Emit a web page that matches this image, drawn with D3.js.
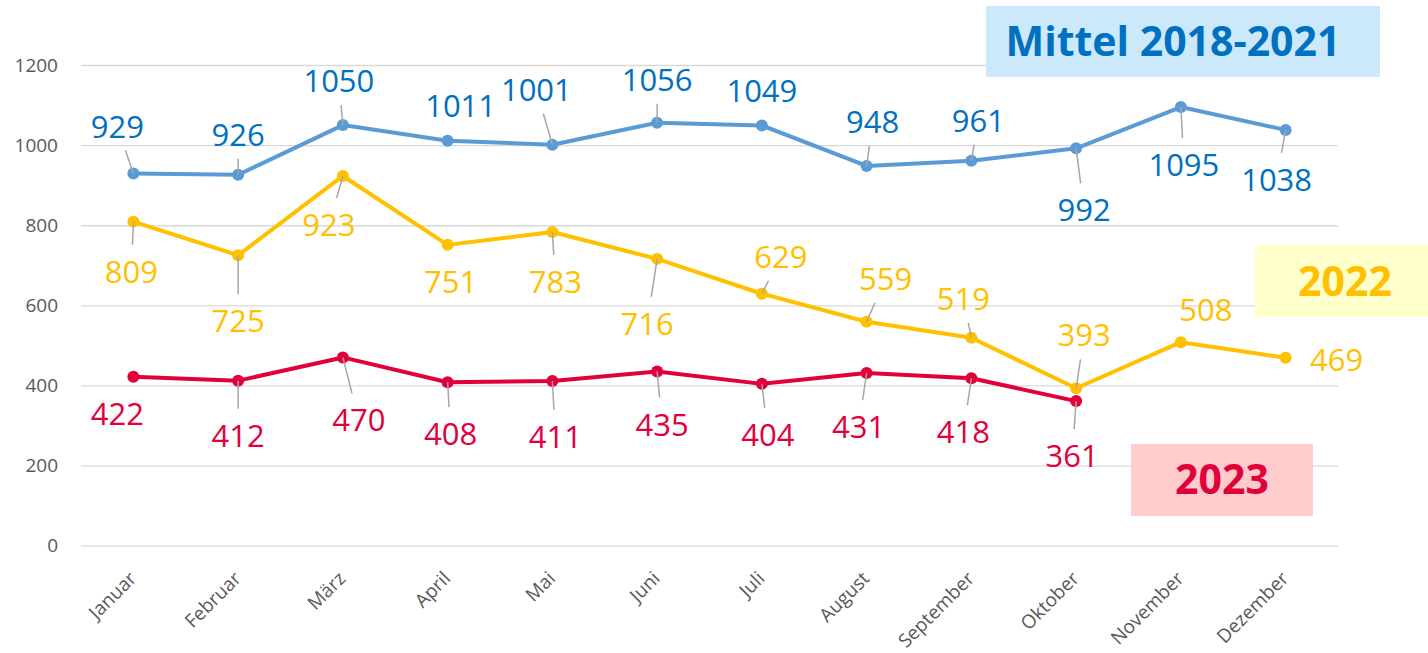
<!DOCTYPE html>
<html>
<head>
<meta charset="utf-8">
<script src="https://cdn.jsdelivr.net/npm/d3@7"></script>
<style>
	body { margin: 0; background: #fff; }
	svg { display: block; font-family: "Open Sans", sans-serif; }
</style>
</head>
<body>
<div id="chart"></div>
<script>
// data
const months = ["Januar", "Februar", "März", "April", "Mai", "Juni", "Juli", "August", "September", "Oktober", "November", "Dezember"]
const mittel = [929, 926, 1050, 1011, 1001, 1056, 1049, 948, 961, 992, 1095, 1038]
const year2022 = [809, 725, 923, 751, 783, 716, 629, 559, 519, 393, 508, 469]
const year2023 = [422, 412, 470, 408, 411, 435, 404, 431, 418, 361]
const yTicks = [0, 200, 400, 600, 800, 1000, 1200]

// label placement (pixel offset from the point to the label centre)
const offMittel = [[-16,-47],[0,-40],[-4,-44],[13,-35],[-16,-55],[0,-43],[0,-35],[6,-44],[7,-40],[8,62],[3,58],[-9,50]]
const off2022 = [[-2,50],[0,66],[-14,49],[3,37],[3,50],[-10,65],[19,-37],[19,-43],[-8,-39],[8,-53],[25,-32],[51,2]]
const off2023 = [[-16,37],[0,55],[16,63],[3,52],[3,56],[5,53],[6,51],[-8,54],[-8,54],[-4,55]]

const chart_width = 1428, chart_height = 653
const pad_left = 81, pad_right = 1338, pad_top = 65, pad_bottom = 545.7

const svg = d3.select("#chart").append("svg")
	.attr("width", chart_width)
	.attr("height", chart_height)

const x = d3.scaleBand().domain(months).range([pad_left, pad_right])
const cx = m => x(m) + x.bandwidth() / 2
const y = d3.scaleLinear().domain([0, 1200]).range([pad_bottom, pad_top])

// y axis with gridlines
const yAxis = svg.append("g")
	.attr("transform", `translate(${pad_left},0)`)
	.call(d3.axisLeft(y).tickValues(yTicks).tickFormat(d3.format("d"))
		.tickSize(-(pad_right - pad_left)).tickPadding(23))
yAxis.select(".domain").remove()
yAxis.selectAll(".tick line").attr("stroke", "#d9d9d9").attr("stroke-width", 1.3)
yAxis.selectAll(".tick text")
	.attr("fill", "#595959")
	.attr("font-size", 19)
	.attr("font-family", "Open Sans")

// x axis, rotated labels
const xAxis = svg.append("g")
	.attr("transform", `translate(0,${pad_bottom})`)
	.call(d3.axisBottom(x).tickSize(0))
xAxis.select(".domain").remove()
xAxis.selectAll(".tick text")
	.attr("fill", "#595959")
	.attr("font-size", 19)
	.attr("font-family", "Open Sans")
	.attr("text-anchor", "end")
	.attr("dy", 0)
	.attr("y", 0)
	.attr("transform", "translate(4,34) rotate(-45)")

const series = [
	{ values: mittel, offsets: offMittel, line: "#5b9bd5", label: "#0070c0" },
	{ values: year2022, offsets: off2022, line: "#ffc000", label: "#ffc000" },
	{ values: year2023, offsets: off2023, line: "#e2003b", label: "#e2003b" }
]

const line = d3.line()
	.x((d, i) => cx(months[i]))
	.y(d => y(d))

const lineLayer = svg.append("g")
const leaderLayer = svg.append("g")
const labelLayer = svg.append("g")

series.forEach(s => {
	lineLayer.append("path")
		.datum(s.values)
		.attr("d", line)
		.attr("fill", "none")
		.attr("stroke", s.line)
		.attr("stroke-width", 4)
		.attr("stroke-linejoin", "round")
	lineLayer.selectAll(null)
		.data(s.values)
		.enter().append("circle")
		.attr("cx", (d, i) => cx(months[i]))
		.attr("cy", d => y(d))
		.attr("r", 6)
		.attr("fill", s.line)

	s.values.forEach((v, i) => {
		const px = cx(months[i]), py = y(v)
		const lx = px + s.offsets[i][0], ly = py + s.offsets[i][1]
		const t = labelLayer.append("text")
			.attr("x", lx)
			.attr("y", ly)
			.attr("dy", "0.357em")
			.attr("text-anchor", "middle")
			.attr("font-size", 31)
			.attr("fill", s.label)
			.text(v)

		// leader line from the point to the edge of the label box
		const w = t.node().getBBox().width
		const hw = w / 2 + 14
		const hTop = 11 + 16, hBot = 11 + 13
		const dx = px - lx, dy = py - ly
		const hh = dy < 0 ? hTop : hBot
		const k = Math.min(dx === 0 ? Infinity : hw / Math.abs(dx), dy === 0 ? Infinity : hh / Math.abs(dy))
		if (k >= 1) return
		const ex = lx + dx * k, ey = ly + dy * k
		const len = Math.hypot(px - ex, py - ey)
		if (len < 13.5) return
		leaderLayer.append("line")
			.attr("x1", ex).attr("y1", ey)
			.attr("x2", px).attr("y2", py)
			.attr("stroke", "#a6a6a6")
			.attr("stroke-width", 1.5)
	})
})

// legend boxes
const boxes = [
	{ text: "Mittel 2018-2021", x: 986, y: 6, w: 394, h: 71, fill: "#cce9fc", color: "#0070c0", tx: 1173, ty: 41.5 },
	{ text: "2022", x: 1255, y: 245, w: 180, h: 72, fill: "#ffffcc", color: "#ffc000", tx: 1345, ty: 281 },
	{ text: "2023", x: 1131, y: 444, w: 182, h: 72, fill: "#ffcccc", color: "#e2003b", tx: 1222, ty: 479 }
]
const legend = svg.append("g")
boxes.forEach(b => {
	legend.append("rect")
		.attr("x", b.x).attr("y", b.y)
		.attr("width", b.w).attr("height", b.h)
		.attr("fill", b.fill)
	legend.append("text")
		.attr("x", b.tx).attr("y", b.ty).attr("dy", "0.357em")
		.attr("text-anchor", "middle")
		.attr("font-size", 41).attr("font-weight", "bold")
		.attr("fill", b.color)
		.text(b.text)
})
</script>
</body>
</html>
